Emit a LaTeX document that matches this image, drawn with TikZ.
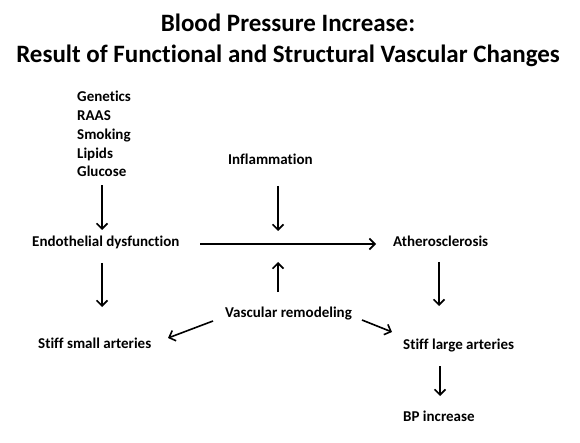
\documentclass[tikz,border=0pt]{standalone}
\usepackage{fontspec}
\setmainfont{Carlito}[Ligatures=NoCommon]
\usetikzlibrary{arrows.meta,calc}
\tikzset{
  lbl/.style={inner sep=0pt, anchor=base west, font=\fontsize{15}{18.75}\selectfont\bfseries},
  ttl/.style={inner sep=0pt, anchor=base, font=\fontsize{25}{31}\selectfont\bfseries},
  arr/.style={line width=1.6pt, -{Straight Barb[length=5.5pt,width=11pt,line width=1.6pt]}}
}
\begin{document}
\begin{tikzpicture}[x=1pt,y=-1pt]
\useasboundingbox (0,0) rectangle (580,443);
\node[ttl] (t1) at (288,32) {Blood Pressure Increase:};
\node[ttl] (t2) at (288,63) {Result of Functional and Structural Vascular Changes};
\node[lbl, align=left] (list) at (77,177) {Genetics\\RAAS\\Smoking\\Lipids\\Glucose};
\node[lbl] (inflam) at (228,165) {Inflammation};
\node[lbl] (endo) at (32,247) {Endothelial dysfunction};
\node[lbl] (ather) at (393,247) {Atherosclerosis};
\node[lbl] (vasc) at (225,317) {Vascular remodeling};
\node[lbl] (ssa) at (38,348) {Stiff small arteries};
\node[lbl] (sla) at (403,349) {Stiff large arteries};
\node[lbl] (bp) at (403,421) {BP increase};
\coordinate (jt) at ($(endo.base west)+(246,-16)$);
\coordinate (jb) at ($(endo.base west)+(246,15)$);
\draw[arr] ($(list.south west)+(25,8)$) -- ($(endo.base west)+(70,-17)$);
\draw[arr] ($(endo.base west)+(70,16)$) -- ($(ssa.base west)+(64,-41)$);
\draw[arr] ($(inflam.base west)+(50,21)$) -- (jt);
\draw[arr] ($(vasc.base west)+(53,-25)$) -- (jb);
\draw[arr] ($(endo.base west)+(168,-3)$) -- ($(ather.base west)+(-17,-3)$);
\draw[arr] ($(ather.base west)+(46,15)$) -- ($(sla.base west)+(36,-43)$);
\draw[arr] ($(sla.base west)+(37,17)$) -- ($(bp.base west)+(37,-25)$);
\draw[arr] ($(vasc.base west)+(-12,4)$) -- ($(ssa.base west)+(130,-10)$);
\draw[arr] ($(vasc.base west)+(137,3)$) -- ($(sla.base west)+(-11,-17)$);
\end{tikzpicture}
\end{document}
